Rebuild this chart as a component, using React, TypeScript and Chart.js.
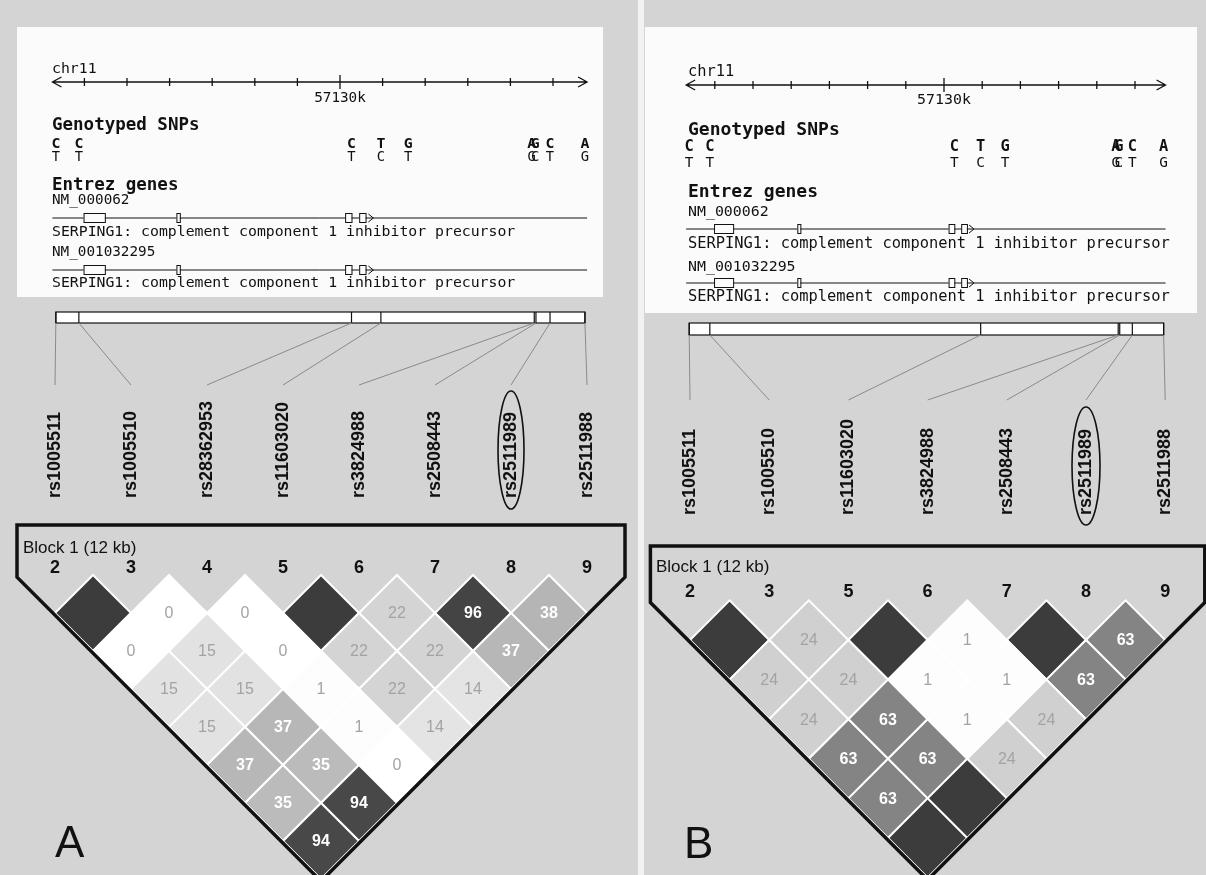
import React, { useEffect, useRef } from 'react';
import { Chart, registerables } from 'chart.js';

Chart.register(...registerables);

const W = 1206;
const H = 875;

// ---------------- data ----------------
const CHROMOSOME = 'chr11';
const AXIS_START_KB = 57123.25;
const AXIS_END_KB = 57135.8;
const AXIS_TICKS_KB = [57124, 57125, 57126, 57127, 57128, 57129, 57130, 57131, 57132, 57133, 57134, 57135];
const AXIS_LABEL_KB = 57130;
const AXIS_LABEL = '57130k';

const GENOTYPED_SNP_KB = [57123.33, 57123.87, 57130.27, 57130.96, 57131.6, 57134.5, 57134.58, 57134.93, 57135.75];
const ALLELE_MAJOR = ['C', 'C', 'C', 'T', 'G', 'A', 'G', 'C', 'A'];
const ALLELE_MINOR = ['T', 'T', 'T', 'C', 'T', 'G', 'C', 'T', 'G'];

const EXON_START_KB = [57123.98, 57126.16, 57130.12, 57130.45];
const EXON_END_KB = [57124.48, 57126.24, 57130.27, 57130.6];
const GENE_ARROW_KB = 57130.76;
const TRANSCRIPTS = ['NM_000062', 'NM_001032295'];
const GENE_DESCRIPTION = 'SERPING1: complement component 1 inhibitor precursor';

const HIGHLIGHT_SNP = 'rs2511989';
const BLOCK_LABEL = 'Block 1 (12 kb)';

// Panel A
const MARKERS_A = ['rs1005511', 'rs1005510', 'rs28362953', 'rs11603020', 'rs3824988', 'rs2508443', 'rs2511989', 'rs2511988'];
const MARKER_NUMBERS_A = ['2', '3', '4', '5', '6', '7', '8', '9'];
const MARKER_KB_A = [57123.33, 57123.87, 57130.27, 57130.96, 57134.56, 57134.6, 57134.93, 57135.75];
// r² x 100, row r = pairs of markers r apart
const LD_A = [
  [100, 0, 0, 100, 22, 96, 38],
  [0, 15, 0, 22, 22, 37],
  [15, 15, 1, 22, 14],
  [15, 37, 1, 14],
  [37, 35, 0],
  [35, 94],
  [94],
];

// Panel B
const MARKERS_B = ['rs1005511', 'rs1005510', 'rs11603020', 'rs3824988', 'rs2508443', 'rs2511989', 'rs2511988'];
const MARKER_NUMBERS_B = ['2', '3', '5', '6', '7', '8', '9'];
const MARKER_KB_B = [57123.33, 57123.87, 57130.96, 57134.56, 57134.6, 57134.93, 57135.75];
const LD_B = [
  [100, 24, 100, 1, 100, 63],
  [24, 24, 1, 1, 63],
  [24, 63, 1, 24],
  [63, 63, 24],
  [63, 100],
  [100],
];

// ---------------- layout (pixels, not data) ----------------
const PANELS: any[] = [
  {
    letter: 'A', xId: 'x', yId: 'y', gId: 'gA',
    names: MARKERS_A, numbers: MARKER_NUMBERS_A, kb: MARKER_KB_A, ld: LD_A,
    lay: {
      m0: 55, step: 76, row1: 613, kbRef: 340, pxPerKb: 42.6,
      box: [17, 27, 603, 297], textX: 52,
      chrY: 69, axisY: 82, tickLabelY: 98, genoY: 125, aTopY: 144, aBotY: 157,
      entrezY: 185, nmY: [200, 252], geneY: [218, 270], descY: [232, 283],
      snpTop: 312, snpBot: 323, connEnd: 385, labelBottom: 498,
      ellipseCy: 450, ellipseRx: 13, ellipseRy: 59,
      blockTop: 525, blockLabelX: 23, blockLabelY: 548, numY: 568,
      letterX: 55, letterY: 857, mono: 14.8, head: 17.5,
    },
  },
  {
    letter: 'B', xId: 'xB', yId: 'yB', gId: 'gB',
    names: MARKERS_B, numbers: MARKER_NUMBERS_B, kb: MARKER_KB_B, ld: LD_B,
    lay: {
      m0: 690, step: 79.2, row1: 640, kbRef: 944, pxPerKb: 38.2,
      box: [645, 27, 1197, 313], textX: 688,
      chrY: 72, axisY: 85, tickLabelY: 100, genoY: 130, aTopY: 147, aBotY: 163,
      entrezY: 192, nmY: [212, 267], geneY: [229, 283], descY: [244, 297],
      snpTop: 323, snpBot: 335, connEnd: 400, labelBottom: 515,
      ellipseCy: 466, ellipseRx: 14, ellipseRy: 59,
      blockTop: 546, blockLabelX: 656, blockLabelY: 567, numY: 592,
      letterX: 684, letterY: 858, mono: 15.4, head: 18,
    },
  },
];

const mono = (size: number, bold = false) => `${bold ? 'bold ' : ''}${size}px "DejaVu Sans Mono", monospace`;
const sans = (size: number, bold = false) => `${bold ? 'bold ' : ''}${size}px "Liberation Sans", Arial, sans-serif`;

function shade(v: number) {
  const g = Math.round(255 - 1.95 * v);
  return `rgb(${g},${g},${g})`;
}

function cellsOf(ld: number[][]) {
  const out: any[] = [];
  ld.forEach((row, r) => {
    row.forEach((v, i) => {
      const j = i + r + 1;
      out.push({ x: (i + j) / 2, y: r + 1, v });
    });
  });
  return out;
}

function drawPanelBack(chart: any, p: any) {
  const ctx = chart.ctx;
  const L = p.lay;
  const mx = chart.scales[p.xId];
  const g = chart.scales[p.gId];
  const gx = (kb: number) => g.getPixelForValue(kb);
  const X = (k: number) => mx.getPixelForValue(k);

  // gene box
  ctx.fillStyle = '#fbfbfb';
  ctx.fillRect(L.box[0], L.box[1], L.box[2] - L.box[0], L.box[3] - L.box[1]);

  ctx.fillStyle = '#111';
  ctx.strokeStyle = '#111';
  ctx.textBaseline = 'middle';
  ctx.textAlign = 'left';
  ctx.font = mono(L.mono);
  ctx.fillText(CHROMOSOME, L.textX, L.chrY);

  // chromosome axis
  const a0 = gx(AXIS_START_KB);
  const a1 = gx(AXIS_END_KB);
  ctx.lineWidth = 1.3;
  ctx.beginPath();
  ctx.moveTo(a0, L.axisY);
  ctx.lineTo(a1, L.axisY);
  ctx.moveTo(a0 + 9, L.axisY - 5);
  ctx.lineTo(a0, L.axisY);
  ctx.lineTo(a0 + 9, L.axisY + 5);
  ctx.moveTo(a1 - 9, L.axisY - 5);
  ctx.lineTo(a1, L.axisY);
  ctx.lineTo(a1 - 9, L.axisY + 5);
  ctx.stroke();
  AXIS_TICKS_KB.forEach((kb) => {
    const x = gx(kb);
    const major = kb === AXIS_LABEL_KB;
    ctx.beginPath();
    ctx.moveTo(x, L.axisY - (major ? 7 : 4));
    ctx.lineTo(x, L.axisY + (major ? 7 : 4));
    ctx.stroke();
  });
  ctx.textAlign = 'center';
  ctx.font = mono(L.mono - 0.5);
  ctx.fillText(AXIS_LABEL, gx(AXIS_LABEL_KB), L.tickLabelY);

  // genotyped SNPs
  ctx.textAlign = 'left';
  ctx.font = mono(L.head, true);
  ctx.fillText('Genotyped SNPs', L.textX, L.genoY);
  ctx.textAlign = 'center';
  GENOTYPED_SNP_KB.forEach((kb, i) => {
    ctx.font = mono(L.mono, true);
    ctx.fillText(ALLELE_MAJOR[i], gx(kb), L.aTopY);
    ctx.font = mono(L.mono - 1);
    ctx.fillText(ALLELE_MINOR[i], gx(kb), L.aBotY);
  });

  // Entrez genes
  ctx.textAlign = 'left';
  ctx.font = mono(L.head, true);
  ctx.fillText('Entrez genes', L.textX, L.entrezY);
  TRANSCRIPTS.forEach((t, ti) => {
    ctx.font = mono(L.mono - 0.5);
    ctx.fillStyle = '#111';
    ctx.fillText(t, L.textX, L.nmY[ti]);
    const gy = L.geneY[ti];
    ctx.lineWidth = 1;
    ctx.beginPath();
    ctx.moveTo(a0, gy);
    ctx.lineTo(a1, gy);
    ctx.stroke();
    EXON_START_KB.forEach((s, ei) => {
      const xs = gx(s);
      const xe = gx(EXON_END_KB[ei]);
      ctx.fillStyle = '#fbfbfb';
      ctx.fillRect(xs, gy - 4.5, xe - xs, 9);
      ctx.strokeRect(xs + 0.5, gy - 4.5, xe - xs, 9);
    });
    const ax = gx(GENE_ARROW_KB);
    ctx.beginPath();
    ctx.moveTo(ax - 4, gy - 4);
    ctx.lineTo(ax + 1, gy);
    ctx.lineTo(ax - 4, gy + 4);
    ctx.stroke();
    ctx.fillStyle = '#111';
    ctx.font = mono(L.mono);
    ctx.fillText(GENE_DESCRIPTION, L.textX, L.descY[ti]);
  });

  // marker map box
  const k0 = gx(p.kb[0]);
  const k1 = gx(p.kb[p.kb.length - 1]);
  ctx.fillStyle = '#ffffff';
  ctx.fillRect(k0, L.snpTop, k1 - k0, L.snpBot - L.snpTop);
  ctx.strokeStyle = '#111';
  ctx.lineWidth = 1.2;
  ctx.strokeRect(k0, L.snpTop, k1 - k0, L.snpBot - L.snpTop);
  p.kb.forEach((kb: number) => {
    ctx.beginPath();
    ctx.moveTo(gx(kb), L.snpTop);
    ctx.lineTo(gx(kb), L.snpBot);
    ctx.stroke();
  });
  ctx.strokeStyle = '#8a8a8a';
  ctx.lineWidth = 1;
  p.kb.forEach((kb: number, i: number) => {
    ctx.beginPath();
    ctx.moveTo(gx(kb), L.snpBot);
    ctx.lineTo(X(i), L.connEnd);
    ctx.stroke();
  });

  // rotated marker names
  ctx.fillStyle = '#111';
  ctx.font = sans(18, true);
  ctx.textAlign = 'left';
  ctx.textBaseline = 'middle';
  p.names.forEach((name: string, i: number) => {
    ctx.save();
    ctx.translate(X(i), L.labelBottom);
    ctx.rotate(-Math.PI / 2);
    ctx.fillText(name, 0, 0);
    ctx.restore();
    if (name === HIGHLIGHT_SNP) {
      ctx.strokeStyle = '#111';
      ctx.lineWidth = 1.6;
      ctx.beginPath();
      ctx.ellipse(X(i), L.ellipseCy, L.ellipseRx, L.ellipseRy, 0, 0, Math.PI * 2);
      ctx.stroke();
    }
  });

  // block label and marker numbers
  ctx.font = sans(17);
  ctx.textAlign = 'left';
  ctx.fillText(BLOCK_LABEL, L.blockLabelX, L.blockLabelY);
  ctx.font = sans(18, true);
  ctx.textAlign = 'center';
  p.numbers.forEach((n: string, i: number) => ctx.fillText(n, X(i), L.numY));

  // panel letter
  ctx.font = sans(44);
  ctx.textAlign = 'left';
  ctx.textBaseline = 'alphabetic';
  ctx.fillText(p.letter, L.letterX, L.letterY);
}

function drawPanelFront(chart: any, p: any, di: number) {
  const ctx = chart.ctx;
  const L = p.lay;
  const mx = chart.scales[p.xId];
  const my = chart.scales[p.yId];
  const X = (k: number) => mx.getPixelForValue(k);

  // r² numbers
  const meta = chart.getDatasetMeta(di);
  const data = chart.data.datasets[di].data;
  ctx.textAlign = 'center';
  ctx.textBaseline = 'middle';
  meta.data.forEach((el: any, k: number) => {
    const v = data[k].v;
    if (v >= 100) return;
    const light = v < 30;
    ctx.fillStyle = light ? '#a3a3a3' : '#ffffff';
    ctx.font = sans(16, !light);
    ctx.fillText(String(v), el.x, el.y + 1);
  });

  // block outline
  const n = p.names.length;
  const x0 = X(0);
  const xn = X(n - 1);
  const half = (X(1) - X(0)) / 2;
  const yr1 = my.getPixelForValue(1);
  const off = 1.5 * Math.SQRT2;
  const leftX = x0 - half;
  const rightX = xn + half;
  const cL = x0 - off - yr1;
  const cR = xn + off + yr1;
  const kneeL = leftX - cL;
  const kneeR = cR - rightX;
  const tipX = (cR + cL) / 2;
  const tipY = (cR - cL) / 2;
  ctx.strokeStyle = '#111';
  ctx.lineWidth = 3.5;
  ctx.lineJoin = 'miter';
  ctx.beginPath();
  ctx.moveTo(leftX, kneeL);
  ctx.lineTo(leftX, L.blockTop);
  ctx.lineTo(rightX, L.blockTop);
  ctx.lineTo(rightX, kneeR);
  ctx.lineTo(tipX, tipY);
  ctx.closePath();
  ctx.stroke();
}

const decorPlugin = {
  id: 'haploDecor',
  beforeDatasetsDraw(chart: any) {
    const ctx = chart.ctx;
    ctx.save();
    ctx.fillStyle = '#d4d4d4';
    ctx.fillRect(0, 0, W, H);
    ctx.fillStyle = '#f2f2f2';
    ctx.fillRect(638, 0, 6, H);
    PANELS.forEach((p) => drawPanelBack(chart, p));
    ctx.restore();
  },
  afterDatasetsDraw(chart: any) {
    const ctx = chart.ctx;
    ctx.save();
    PANELS.forEach((p, i) => drawPanelFront(chart, p, i));
    ctx.restore();
  },
};

function buildConfig(): any {
  const scales: any = {};
  PANELS.forEach((p) => {
    const L = p.lay;
    const half = L.step / 2;
    scales[p.xId] = { type: 'linear', axis: 'x', display: false, min: -L.m0 / L.step, max: (W - L.m0) / L.step };
    const ymin = 1 - L.row1 / half;
    scales[p.yId] = { type: 'linear', axis: 'y', display: false, reverse: true, min: ymin, max: ymin + H / half };
    const gmin = 57130 - L.kbRef / L.pxPerKb;
    scales[p.gId] = { type: 'linear', axis: 'x', display: false, min: gmin, max: gmin + W / L.pxPerKb };
  });

  const datasets = PANELS.map((p) => ({
    label: `LD ${p.letter}`,
    data: cellsOf(p.ld),
    xAxisID: p.xId,
    yAxisID: p.yId,
    showLine: false,
    clip: false,
    pointStyle: 'rectRot',
    pointRadius: (c: any) => {
      const s = c.chart.scales[p.xId];
      return Math.abs(s.getPixelForValue(0.5) - s.getPixelForValue(0));
    },
    pointHoverRadius: (c: any) => {
      const s = c.chart.scales[p.xId];
      return Math.abs(s.getPixelForValue(0.5) - s.getPixelForValue(0));
    },
    pointBackgroundColor: (c: any) => shade(c.raw ? c.raw.v : 0),
    pointBorderColor: '#ffffff',
    pointBorderWidth: 2,
  }));

  return {
    type: 'scatter',
    data: { datasets },
    options: {
      responsive: false,
      animation: false,
      devicePixelRatio: 1,
      events: [],
      layout: { padding: 0 },
      plugins: { legend: { display: false }, tooltip: { enabled: false } },
      scales,
    },
    plugins: [decorPlugin],
  };
}

export default function App() {
  const ref = useRef<HTMLCanvasElement | null>(null);
  useEffect(() => {
    if (!ref.current) return;
    const chart = new Chart(ref.current, buildConfig());
    return () => chart.destroy();
  }, []);
  return (
    <div style={{ position: 'absolute', left: 0, top: 0, width: W, height: H }}>
      <canvas ref={ref} width={W} height={H} style={{ display: 'block', width: W, height: H }} />
    </div>
  );
}
